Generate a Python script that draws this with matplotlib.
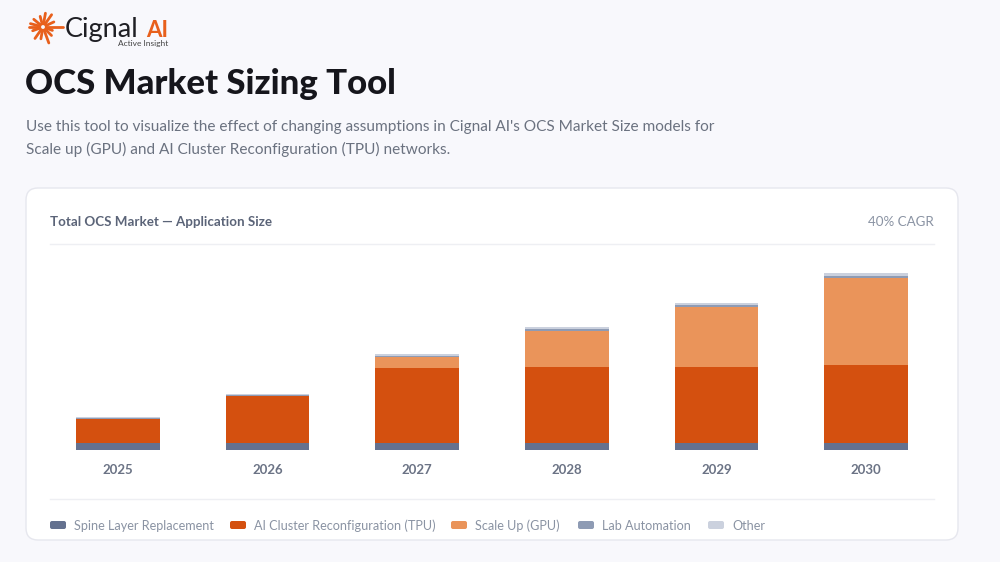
import numpy as np
import matplotlib.pyplot as plt
from matplotlib.patches import FancyBboxPatch, Circle

plt.rcParams['font.family'] = ['Lato', 'DejaVu Sans']

years = ["2025", "2026", "2027", "2028", "2029", "2030"]
series = ["Spine Layer Replacement", "AI Cluster Reconfiguration (TPU)", "Scale Up (GPU)",
          "Lab Automation", "Other"]
spine = [7, 7, 7, 7, 7, 7]
tpu = [24, 47, 75, 76, 76, 78]
gpu = [0, 0, 11, 36, 60, 87]
lab = [0.8, 1.0, 1.5, 2.0, 2.0, 2.5]
other = [0.8, 1.0, 1.5, 2.0, 2.0, 2.5]
colors = ["#64718f", "#d4500f", "#ea945a", "#8e9bb4", "#cbd1de"]

W, H = 1000, 562
fig = plt.figure(figsize=(W / 100, H / 100), dpi=100)
fig.patch.set_facecolor("#f8f8fc")

# background axes in pixel coordinates
bg = fig.add_axes([0, 0, 1, 1])
bg.set_xlim(0, W)
bg.set_ylim(H, 0)
bg.axis("off")

# logo
cx, cy = 43, 27
angles = np.deg2rad([0, 25, 55, 80, 105, 140, 165, 180, 200, 235, 260, 290, 315, 340])
lengths = [20, 12, 15, 14, 11, 12, 13, 14, 11, 14, 12, 17, 12, 10]
for a, L in zip(angles, lengths):
    bg.plot([cx + 4 * np.cos(a), cx + L * np.cos(a)],
            [cy - 4 * np.sin(a), cy - L * np.sin(a)],
            color="#e8601c", lw=2.0, solid_capstyle="round")
bg.add_patch(Circle((cx, cy), 3.2, fill=False, ec="#e8601c", lw=1.8))
bg.text(65, 37, "Cignal", fontsize=19.5, color="#1f1f24", ha="left", va="baseline")
bg.text(146, 37, "AI", fontsize=16, color="#e8601c", ha="left", va="baseline", fontweight="bold")
bg.text(168, 46, "Active Insight", fontsize=6, color="#444", ha="right", va="baseline")

bg.text(25, 84, "OCS Market Sizing Tool", fontsize=25, fontweight="black",
        color="#16161c", ha="left", va="center")
bg.text(26, 127, "Use this tool to visualize the effect of changing assumptions in Cignal AI's "
        "OCS Market Size models for", fontsize=11.1, color="#6b7280", ha="left", va="center")
bg.text(26, 149, "Scale up (GPU) and AI Cluster Reconfiguration (TPU) networks.",
        fontsize=11.1, color="#6b7280", ha="left", va="center")

# card
card = FancyBboxPatch((26, 188), 932, 352, boxstyle="round,pad=0,rounding_size=12",
                      fc="white", ec="#e6e7ee", lw=1.0)
bg.add_patch(card)
bg.text(50, 222, "Total OCS Market \u2014 Application Size", fontsize=9.6, fontweight="bold",
        color="#5b6478", ha="left", va="center")
bg.text(934, 222, "40% CAGR", fontsize=9.6, color="#8a93a3", ha="right", va="center")
bg.plot([50, 934], [244, 244], color="#eeeff3", lw=1)
bg.plot([50, 934], [499, 499], color="#eeeff3", lw=1)

# legend
lx = [50, 230, 451, 578, 708]
for x, name, c in zip(lx, series, colors):
    bg.add_patch(FancyBboxPatch((x, 521), 16, 8, boxstyle="round,pad=0,rounding_size=2",
                                fc=c, ec="none"))
    bg.text(x + 24, 525.5, name, fontsize=9.1, color="#8a93a3", ha="left", va="center")

# chart
left, right, top, base = 43, 941, 250, 450
ax = fig.add_axes([left / W, 1 - base / H, (right - left) / W, (base - top) / H])
ax.set_facecolor("none")
x = np.arange(len(years))
bottom = np.zeros(len(years))
for vals, c in zip([spine, tpu, gpu, lab, other], colors):
    ax.bar(x, vals, width=0.56, bottom=bottom, color=c, linewidth=0)
    bottom += np.array(vals)
ax.set_xlim(-0.5, len(years) - 0.5)
ax.set_ylim(0, 200)
ax.set_yticks([])
ax.set_xticks(x)
ax.set_xticklabels(years, fontsize=9.5, fontweight="bold", color="#6b7385")
ax.tick_params(axis="x", length=0, pad=10)
for s in ax.spines.values():
    s.set_visible(False)

fig.savefig("out.png", dpi=100, facecolor=fig.get_facecolor())
